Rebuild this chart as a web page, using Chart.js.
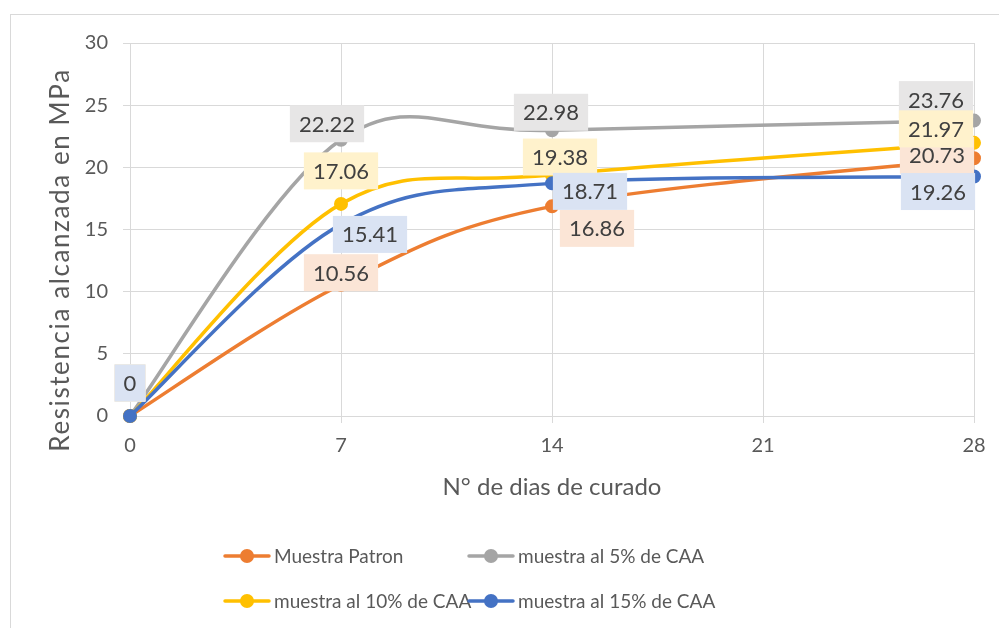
<!DOCTYPE html>
<html>
<head>
<meta charset="utf-8">
<script src="https://cdn.jsdelivr.net/npm/chart.js@4"></script>
<style>
  html, body { margin: 0; padding: 0; background: #fff; }
  #wrap { width: 999px; height: 628px; }
</style>
</head>
<body>
<div id="wrap"><canvas id="myChart" width="999" height="628"></canvas></div>
<script>
// data
const days = [0, 7, 14, 28];
const patron = [0, 10.56, 16.86, 20.73];
const caa5 = [0, 22.22, 22.98, 23.76];
const caa10 = [0, 17.06, 19.38, 21.97];
const caa15 = [0, 15.41, 18.71, 19.26];
const seriesNames = ['Muestra Patron', 'muestra al 5% de CAA', 'muestra al 10% de CAA', 'muestra al 15% de CAA'];
const xTicks = [0, 7, 14, 21, 28];
const yTicks = [0, 5, 10, 15, 20, 25, 30];

const colors = ['#ED7D31', '#A5A5A5', '#FFC000', '#4472C4'];
const labelBg = ['#FBE5D6', '#E7E6E6', '#FFF2CC', '#DAE3F3'];
// where each value box sits relative to its point (px)
const labelOffsets = [
    [[0, -33], [0, -12], [45, 22], [-37, -3]],
    [[0, -33], [-14, -16], [-1, -18], [-38, -21]],
    [[0, -33], [0, -33], [8, -18], [-38, -14]],
    [[0, -33], [29, 10], [38, 8], [-36, 15]]
];

const FONT = 'Lato, "Open Sans", sans-serif';
const allSeries = [patron, caa5, caa10, caa15];

function toPoints(vals) {
    return days.map((d, i) => ({ x: d, y: vals[i] }));
}

// excel-like smoothing: control points at 1/6 of the neighbour chord
const smoothPlugin = {
    id: 'excelSmooth',
    beforeDatasetDraw(chart, args) {
        const pts = args.meta.data;
        const n = pts.length;
        for (let i = 0; i < n; i++) {
            const prev = pts[Math.max(i - 1, 0)];
            const next = pts[Math.min(i + 1, n - 1)];
            const dx = (next.x - prev.x) / 6;
            const dy = (next.y - prev.y) / 6;
            pts[i].cp1x = pts[i].x - dx;
            pts[i].cp1y = pts[i].y - dy;
            pts[i].cp2x = pts[i].x + dx;
            pts[i].cp2y = pts[i].y + dy;
        }
        args.meta.dataset._pointsUpdated = true;
    }
};

const labelPlugin = {
    id: 'boxLabels',
    beforeDraw(chart) {
        const ctx = chart.ctx;
        ctx.save();
        ctx.fillStyle = '#fff';
        ctx.fillRect(0, 0, chart.width, chart.height);
        ctx.strokeStyle = '#D9D9D9';
        ctx.lineWidth = 1;
        ctx.strokeRect(10.5, 14.5, 1000, 700);
        ctx.restore();
    },
    afterDatasetsDraw(chart) {
        const ctx = chart.ctx;
        ctx.save();
        ctx.font = '22px ' + FONT;
        ctx.textAlign = 'center';
        ctx.textBaseline = 'middle';
        allSeries.forEach((vals, i) => {
            const meta = chart.getDatasetMeta(i);
            meta.data.forEach((pt, j) => {
                const txt = String(vals[j]);
                const cx = pt.x + labelOffsets[i][j][0];
                const cy = pt.y + labelOffsets[i][j][1];
                const w = ctx.measureText(txt).width + 18;
                const h = 37;
                ctx.fillStyle = labelBg[i];
                ctx.fillRect(cx - w / 2, cy - h / 2, w, h);
                ctx.fillStyle = '#404040';
                ctx.fillText(txt, cx, cy + 1);
            });
        });
        ctx.restore();
    },
    afterDraw(chart) {
        const ctx = chart.ctx;
        ctx.save();
        // y axis title
        ctx.translate(61, 260);
        ctx.rotate(-Math.PI / 2);
        ctx.font = '26px ' + FONT;
        ctx.letterSpacing = '1.6px';
        ctx.fillStyle = '#595959';
        ctx.textAlign = 'center';
        ctx.textBaseline = 'middle';
        ctx.fillText('Resistencia alcanzada en MPa', 0, 0);
        ctx.restore();

        // legend, two columns
        ctx.save();
        const colX = [225, 469];
        const rowY = [556, 601];
        ctx.font = '19px ' + FONT;
        ctx.textBaseline = 'middle';
        seriesNames.forEach((name, i) => {
            const x = colX[i % 2];
            const y = rowY[Math.floor(i / 2)];
            ctx.strokeStyle = colors[i];
            ctx.lineWidth = 3.5;
            ctx.lineCap = 'round';
            ctx.beginPath();
            ctx.moveTo(x, y);
            ctx.lineTo(x + 44, y);
            ctx.stroke();
            ctx.fillStyle = colors[i];
            ctx.beginPath();
            ctx.arc(x + 22, y, 7, 0, Math.PI * 2);
            ctx.fill();
            ctx.fillStyle = '#595959';
            ctx.fillText(name, x + 49, y + 1);
        });
        ctx.restore();
    }
};

new Chart(document.getElementById('myChart'), {
    type: 'line',
    data: {
        datasets: allSeries.map((vals, i) => ({
            label: seriesNames[i],
            data: toPoints(vals),
            borderColor: colors[i],
            backgroundColor: colors[i],
            pointBackgroundColor: colors[i],
            pointBorderColor: colors[i],
            pointRadius: 6,
            pointBorderWidth: 2,
            borderWidth: 3.5,
            tension: 0.4,
            fill: false,
            clip: false,
            order: 4 - i
        }))
    },
    options: {
        responsive: false,
        animation: false,
        layout: { padding: { left: 0, top: 43, right: 25, bottom: 126 } },
        plugins: {
            legend: { display: false },
            tooltip: { enabled: false }
        },
        scales: {
            x: {
                type: 'linear',
                min: 0,
                max: 28,
                afterBuildTicks(scale) { scale.ticks = xTicks.map(v => ({ value: v })); },
                afterFit(scale) { scale.height = 86; },
                grid: { color: '#D9D9D9', tickLength: 7, drawTicks: true },
                border: { color: '#D9D9D9' },
                ticks: { color: '#595959', font: { family: FONT, size: 20 }, padding: 11, maxRotation: 0 },
                title: {
                    display: true,
                    text: 'N° de dias de curado',
                    color: '#595959',
                    font: { family: FONT, size: 24 },
                    padding: 0
                }
            },
            y: {
                min: 0,
                max: 30,
                afterBuildTicks(scale) { scale.ticks = yTicks.map(v => ({ value: v })); },
                afterFit(scale) { scale.width = 130; },
                grid: { color: '#D9D9D9', tickLength: 7, drawTicks: true },
                border: { color: '#D9D9D9' },
                ticks: { color: '#595959', font: { family: FONT, size: 20 }, padding: 15 }
            }
        }
    },
    plugins: [smoothPlugin, labelPlugin]
});
</script>
</body>
</html>
